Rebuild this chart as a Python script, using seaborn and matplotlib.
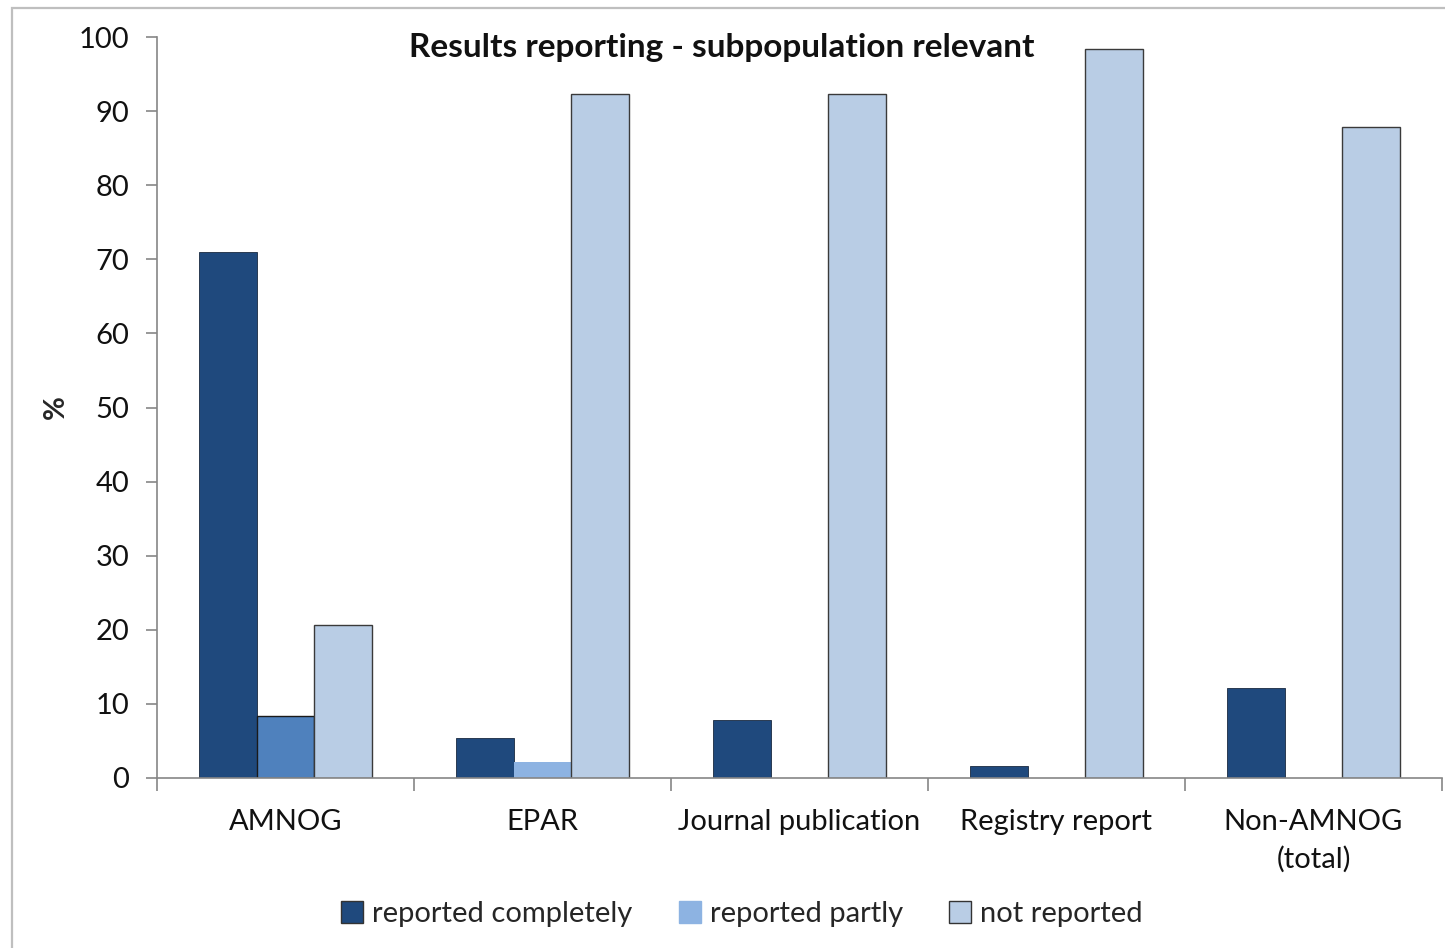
import matplotlib
matplotlib.use("Agg")
import matplotlib.pyplot as plt
from matplotlib.patches import Rectangle
from matplotlib.ticker import FixedLocator
import numpy as np
import pandas as pd
import seaborn as sns

# Share of results reported, by source document
categories = ["AMNOG", "EPAR", "Journal publication", "Registry report", "Non-AMNOG\n(total)"]
statuses = ["reported completely", "reported partly", "not reported"]
reported_completely = [71.0, 5.4, 7.8, 1.6, 12.1]
reported_partly = [8.4, 2.2, 0.0, 0.0, 0.0]
not_reported = [20.6, 92.3, 92.3, 98.4, 87.8]

palette = {"reported completely": "#1F497D",
           "reported partly": "#8DB3E2",
           "not reported": "#B9CDE5"}

df = pd.DataFrame({
    "Source": categories * 3,
    "Status": [statuses[0]] * 5 + [statuses[1]] * 5 + [statuses[2]] * 5,
    "Percent": reported_completely + reported_partly + not_reported,
})

sns.set_theme(style="white")
plt.rcParams["font.family"] = ["Lato", "DejaVu Sans"]

fig = plt.figure(figsize=(14.45, 9.48), dpi=100)
ax = fig.add_axes([157 / 1445, 1 - 778 / 948, (1442 - 157) / 1445, (778 - 37) / 948])

sns.barplot(data=df, x="Source", y="Percent", hue="Status", order=categories,
            hue_order=statuses, palette=palette, width=0.67, saturation=1,
            ax=ax, legend=False)

# Per-bar styling: the AMNOG "partly" bar is a deeper blue; pale bars get outlines
bars = ax.patches
for i, bar in enumerate(bars):
    hue_idx, cat_idx = divmod(i, len(categories))
    bar.set_linewidth(0)
    if bar.get_height() == 0:
        continue
    if hue_idx == 1 and cat_idx == 0:
        bar.set_facecolor("#4F81BD")
        bar.set_edgecolor("#1a1a1a")
        bar.set_linewidth(1.0)
    elif hue_idx == 2:
        bar.set_edgecolor("#3a3a3a")
        bar.set_linewidth(1.0)
    elif hue_idx == 0:
        bar.set_edgecolor("#1a2a40")
        bar.set_linewidth(0.6)

ax.set_xlim(-0.5, len(categories) - 0.5)
ax.set_ylim(0, 100)
ax.set_yticks(np.arange(0, 101, 10))
ax.set_xlabel("")
ax.set_ylabel("%", fontsize=21, fontweight="bold")
ax.yaxis.set_label_coords(-88 / 1285, 0.5)

axis_grey = "#868686"
for side in ["top", "right"]:
    ax.spines[side].set_visible(False)
for side in ["left", "bottom"]:
    ax.spines[side].set_color(axis_grey)
    ax.spines[side].set_linewidth(1.2)

ax.tick_params(axis="y", which="major", left=True, length=8, width=1.2,
               color=axis_grey, labelsize=21, pad=12, labelcolor="#111111")
ax.tick_params(axis="x", which="major", bottom=False, labelsize=21, pad=16,
               labelcolor="#111111")
ax.xaxis.set_minor_locator(FixedLocator(np.arange(-0.5, len(categories), 1.0)))
ax.tick_params(axis="x", which="minor", bottom=True, length=9, width=1.2,
               color=axis_grey)
for lbl in ax.get_xticklabels():
    lbl.set_linespacing(1.5)

fig.text(722 / 1445, 1 - 48 / 948, "Results reporting - subpopulation relevant",
         ha="center", va="center", fontsize=24, fontweight="bold", color="#111111")

handles = [Rectangle((0, 0), 1, 1, facecolor=palette[s],
                     edgecolor="#333333" if s != "reported partly" else palette[s],
                     linewidth=1.0) for s in statuses]
fig.legend(handles, statuses, loc="center", bbox_to_anchor=(742 / 1445, 1 - 914 / 948),
           ncol=3, frameon=False, fontsize=21, handlelength=0.75, handleheight=0.75,
           handletextpad=0.3, columnspacing=1.6)

# Thin outer border of the chart area
fig.patches.append(Rectangle((12 / 1445, -0.05), 1.2, 1 - 8 / 948 + 0.05,
                             transform=fig.transFigure, fill=False,
                             edgecolor="#BFBFBF", linewidth=1.6, zorder=-1))

fig.savefig("out.png", dpi=100)
